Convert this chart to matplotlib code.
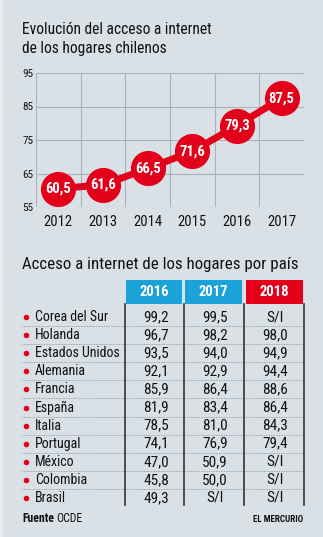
import numpy as np
import matplotlib
matplotlib.use("Agg")
import matplotlib.pyplot as plt

# data
years = ["2012", "2013", "2014", "2015", "2016", "2017"]
access = [60.5, 61.6, 66.5, 71.6, 79.3, 87.5]
y_ticks = [55, 65, 75, 85, 95]

countries = ["Corea del Sur", "Holanda", "Estados Unidos", "Alemania", "Francia",
             "España", "Italia", "Portugal", "México", "Colombia", "Brasil"]
col_years = ["2016", "2017", "2018"]
v2016 = ["99,2", "96,7", "93,5", "92,1", "85,9", "81,9", "78,5", "74,1", "47,0", "45,8", "49,3"]
v2017 = ["99,5", "98,2", "94,0", "92,9", "86,4", "83,4", "81,0", "76,9", "50,9", "50,0", "S/I"]
v2018 = ["S/I", "98,0", "94,9", "94,4", "88,6", "86,4", "84,3", "79,4", "S/I", "S/I", "S/I"]

BG = "#dae1e6"
RED = "#e2001a"
BLUE = "#1ba2d8"
GRID = "#a8b2b9"
FONT = ["Liberation Sans Narrow", "Roboto Condensed", "Roboto", "DejaVu Sans"]
plt.rcParams["font.family"] = FONT

W, H = 323, 537
fig = plt.figure(figsize=(W / 100, H / 100), dpi=100)
fig.patch.set_facecolor(BG)

# full-figure overlay in pixel coords
ov = fig.add_axes([0, 0, 1, 1])
ov.set_xlim(0, W)
ov.set_ylim(H, 0)
ov.axis("off")
ov.add_patch(plt.Rectangle((0, 0), 3, H, color="#e9edf0", lw=0))

ov.text(22, 30, "Evolución del acceso a internet", fontsize=11.2, va="center", color="#111")
ov.text(22, 48, "de los hogares chilenos", fontsize=11.2, va="center", color="#111")

# line chart
left, right, top, bottom = 36, 304, 73, 207
ax = fig.add_axes([left / W, 1 - bottom / H, (right - left) / W, (bottom - top) / H])
ax.set_facecolor("none")
x = np.arange(len(years))
ax.set_xlim(-0.5, len(years) - 0.5)
ax.set_ylim(55, 95)
for xv in np.arange(-0.5, len(years), 1):
    ax.axvline(xv, color=GRID, lw=0.8, zorder=0)
for yv in y_ticks:
    ax.axhline(yv, color=GRID, lw=0.8, zorder=0)
for s in ax.spines.values():
    s.set_visible(False)
ax.plot(x, access, color=RED, lw=5, zorder=2, clip_on=False)
ax.scatter(x, access, s=640, color=RED, zorder=3, clip_on=False, linewidths=0)
for xi, v in zip(x, access):
    ax.text(xi, v, f"{v:.1f}".replace(".", ","), color="white", fontsize=10.5,
            fontweight="bold", ha="center", va="center", zorder=4)
ax.set_xticks(x)
ax.set_xticklabels(years, fontsize=10.5, color="#111")
ax.set_yticks(y_ticks)
ax.set_yticklabels([str(t) for t in y_ticks], fontsize=8, color="#111")
ax.tick_params(length=0, pad=2)
ax.tick_params(axis="x", pad=6)

# table
ov.text(22, 265, "Acceso a internet de los hogares por país", fontsize=12.2,
        va="center", color="#111")
col_box = [(126, 182), (185, 242), (246, 303)]
col_colors = [BLUE, BLUE, RED]
for (x0, x1), c, yr in zip(col_box, col_colors, col_years):
    ov.add_patch(plt.Rectangle((x0, 280), x1 - x0, 24, color=c, lw=0))
    ov.text((x0 + x1) / 2, 292.5, yr, color="white", fontsize=10.5, fontweight="bold",
            ha="center", va="center")

row0, dy = 317, 18.1
cols_vals = [v2016, v2017, v2018]
centers = [156, 215, 275]
for i, name in enumerate(countries):
    yc = row0 + i * dy
    ov.plot(25.5, yc, "o", color=RED, ms=4, mec="none")
    ov.text(35, yc, name, fontsize=10, va="center", color="#111")
    for cx, vals in zip(centers, cols_vals):
        ov.text(cx, yc, vals[i], fontsize=11, va="center", ha="center", color="#111")
    if i < len(countries) - 1:
        ov.plot([22, 303], [yc + 9, yc + 9], color="#8a949b", lw=0.6, ls=(0, (1, 1)))
for vx in [125, 184, 244, 304]:
    ov.plot([vx, vx], [304, 505], color="#333", lw=1.2)

ov.text(22, 519, "Fuente", fontsize=8.5, fontweight="bold", va="center", color="#111")
ov.text(56, 519, "OCDE", fontsize=8.5, va="center", color="#111")
ov.text(303, 519, "EL MERCURIO", fontsize=6.5, fontweight="bold", va="center", ha="right",
        color="#111")

fig.savefig("out.png", dpi=100, facecolor=BG)
